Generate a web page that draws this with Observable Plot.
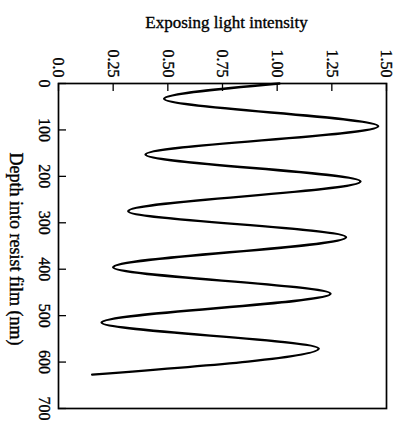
<!DOCTYPE html>
<html>
<head>
<meta charset="utf-8">
<script src="https://cdn.jsdelivr.net/npm/d3@7"></script>
<script src="https://cdn.jsdelivr.net/npm/@observablehq/plot@0.6"></script>
<style>
  html, body { margin: 0; padding: 0; background: #fff; }
</style>
</head>
<body>
<div id="chart"></div>
<script>
// Standing-wave intensity vs depth (extrema)
const depthNm = [0, 33, 92, 153, 211, 275, 331, 396, 453, 515, 571, 627];
const intensity = [1.01, 0.483, 1.462, 0.398, 1.381, 0.319, 1.315, 0.25, 1.244, 0.197, 1.19, 0.154];

const xTickValues = [0, 0.25, 0.5, 0.75, 1.0, 1.25, 1.5];
const xTickLabels = ["0.0", "0.25", "0.50", "0.75", "1.00", "1.25", "1.50"];
const yTickValues = [0, 100, 200, 300, 400, 500, 600, 700];
const yTickLabels = ["0", "100", "200", "300", "400", "500", "600", "700"];

const xTitle = "Exposing light intensity";
const yTitle = "Depth into resist film (nm)";

const data = depthNm.map((d, i) => ({depth: d, intensity: intensity[i]}));
const xTicks = xTickValues.map((v, i) => ({v, label: xTickLabels[i]}));
const yTicks = yTickValues.map((v, i) => ({v, label: yTickLabels[i]}));

const W = 396, H = 424;
const mL = 58, mR = 10, mT = 83, mB = 16;
const plotW = W - mL - mR, plotH = H - mT - mB;
const tickLen = 8;
const textStyle = {fill: "#000", stroke: "#000", strokeWidth: 0.35};

const chart = Plot.plot({
  width: W,
  height: H,
  marginLeft: mL,
  marginRight: mR,
  marginTop: mT,
  marginBottom: mB,
  style: {fontFamily: "'Liberation Serif', 'Times New Roman', serif", fontSize: "16px", background: "#fff", color: "#000"},
  x: {domain: [0, 1.5], axis: null},
  y: {domain: [0, 700], reverse: true, axis: null},
  marks: [
    Plot.frame({stroke: "#000", strokeWidth: 1.7}),
    Plot.tickX(xTicks, {x: "v", stroke: "#000", strokeWidth: 1.3, insetBottom: plotH - tickLen}),
    Plot.tickY(yTicks, {y: "v", stroke: "#000", strokeWidth: 1.3, insetRight: plotW - tickLen}),
    Plot.text(xTicks, {x: "v", text: "label", frameAnchor: "top", rotate: 90, textAnchor: "end", lineAnchor: "middle", dy: -6, fontSize: 16, ...textStyle}),
    Plot.text(yTicks, {y: "v", text: "label", frameAnchor: "left", rotate: 90, textAnchor: "middle", lineAnchor: "middle", dx: -14, fontSize: 16, ...textStyle}),
    Plot.text([xTitle], {text: d => d, frameAnchor: "top", lineAnchor: "bottom", dy: -56, dx: 4, fontSize: 17, ...textStyle}),
    Plot.text([yTitle], {text: d => d, frameAnchor: "left", rotate: 90, textAnchor: "middle", lineAnchor: "middle", dx: -43, dy: 3, fontSize: 18, ...textStyle}),
    Plot.line(data, {x: "intensity", y: "depth", curve: "monotone-y", stroke: "#000", strokeWidth: 2.4})
  ]
});
document.getElementById("chart").appendChild(chart);
</script>
</body>
</html>
